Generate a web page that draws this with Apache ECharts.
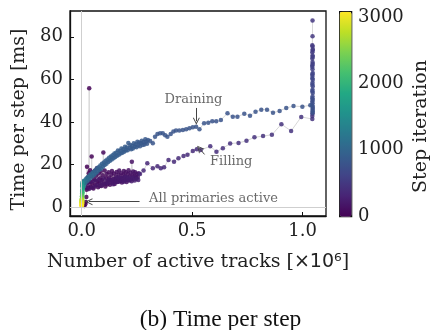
<!DOCTYPE html>
<html>
<head>
<meta charset="utf-8">
<script src="https://cdn.jsdelivr.net/npm/echarts@6/dist/echarts.min.js"></script>
<style>html,body{margin:0;padding:0;background:#fff}#c{width:432px;height:330px}</style>
</head>
<body>
<div id="c"></div>
<script>
// [active tracks (x1e6), time per step (ms), step iteration]
const ramp = [
[0.012,0.6,0],[0.016,1.4,2],[0.019,2.5,4],[0.021,4.8,6],[0.022,8.2,8],[0.024,11.5,10],[0.024,19.0,12],
[0.026,13.8,14],[0.029,9.0,16],[0.032,16.0,18],[0.034,55.9,20],[0.035,12.0,22],[0.038,17.4,24],
[0.041,9.6,26],[0.044,14.6,28],[0.045,23.8,30],[0.047,11.2,32],[0.050,16.4,34],[0.053,8.8,36],
[0.056,13.2,38],[0.059,17.0,40],[0.062,10.4,42],[0.065,14.8,44],[0.069,18.3,46],[0.071,12.0,48],
[0.074,9.4,50],[0.077,15.8,52],[0.080,11.4,54],[0.083,13.6,56],[0.086,16.8,58],[0.089,10.0,60],
[0.092,12.8,62],[0.095,15.0,64],[0.098,25.7,66],[0.101,11.2,68],[0.104,17.2,70],[0.107,9.8,72],
[0.110,13.8,74],[0.113,15.6,76],[0.116,10.8,78],[0.119,12.4,80],[0.122,16.4,82],[0.125,14.0,84],
[0.128,10.6,86],[0.131,12.8,88],[0.134,15.2,90],[0.137,17.0,92],[0.140,11.6,94],[0.143,13.4,96],
[0.146,15.8,98],[0.149,10.9,100],[0.152,12.6,102],[0.155,14.4,104],[0.158,16.6,106],[0.161,11.8,108],
[0.164,13.2,110],[0.167,15.4,112],[0.170,17.2,114],[0.173,12.2,116],[0.176,14.0,118],[0.179,16.0,120],
[0.182,11.6,122],[0.185,13.4,124],[0.188,15.2,126],[0.191,17.0,128],[0.194,12.6,130],[0.197,14.6,132],
[0.200,16.4,134],[0.203,11.8,136],[0.206,13.6,138],[0.209,15.6,140],[0.212,17.4,142],[0.215,12.8,144],
[0.218,14.4,146],[0.221,16.2,148],[0.224,13.0,150],[0.227,21.4,152],[0.230,15.0,154],[0.233,16.8,156],
[0.236,13.4,158],[0.239,14.8,160],[0.242,16.4,162],[0.246,13.8,164],[0.250,15.6,166],[0.254,14.2,168],
[0.258,16.0,170]
];
const rampLow = [
[0.020,9.2,172],[0.027,10.6,174],[0.033,8.6,176],[0.040,11.8,178],[0.046,9.2,180],[0.052,12.2,182],
[0.058,9.8,184],[0.064,12.6,186],[0.070,10.4,188],[0.076,13.0,190],[0.082,10.0,192],[0.088,12.0,194],
[0.094,10.6,196],[0.100,13.4,198],[0.106,11.0,200],[0.112,12.0,202],[0.118,11.4,204],[0.124,13.0,206],
[0.130,11.6,208],[0.136,12.6,210],[0.142,10.8,212],[0.148,13.2,214],[0.154,11.8,216],[0.160,13.8,218],
[0.166,12.0,220],[0.172,14.0,222],[0.178,12.4,224],[0.184,13.6,226],[0.190,12.0,228],[0.196,14.2,230],
[0.202,12.8,232],[0.208,14.0,234],[0.214,12.6,236],[0.220,13.6,238],[0.226,12.2,240],[0.232,13.8,242],
[0.240,12.6,244],[0.248,13.4,246],[0.256,12.8,248]
];
const filling = [
[0.264,15.6,330],[0.280,17.2,335],[0.297,20.6,340],[0.322,18.3,345],[0.343,19.3,350],[0.358,18.3,355],
[0.373,18.8,360],[0.393,22.2,365],[0.418,21.4,370],[0.438,23.0,375],[0.461,24.1,380],[0.479,24.6,385],
[0.503,26.4,390],[0.521,27.2,395],[0.539,26.9,400],[0.582,28.6,405],[0.610,26.1,410],[0.639,27.7,415],
[0.672,29.9,420],[0.710,30.2,425],[0.746,31.2,430],[0.782,32.8,435],[0.821,33.4,440],[0.861,34.0,445],
[0.904,39.0,450],[0.948,35.8,455],[0.994,42.4,460],[1.044,41.4,465],[1.044,42.8,470],[1.045,44.0,475]
];
const plateau = [
[1.045,87.6,490],[1.045,80.3,498],[1.044,76.0,506],[1.046,74.2,514],[1.045,75.4,522],[1.044,72.8,530],
[1.046,73.6,538],[1.045,71.2,546],[1.044,69.8,554],[1.046,70.6,562],[1.045,68.2,570],[1.044,66.6,578],
[1.046,67.4,586],[1.045,64.8,594],[1.044,65.8,602],[1.046,63.0,610],[1.045,61.6,618],[1.044,62.4,626],
[1.046,59.8,634],[1.045,58.4,642],[1.044,60.6,650],[1.046,56.8,658],[1.045,55.2,666],[1.044,57.6,674],
[1.046,53.6,682],[1.045,52.0,690],[1.044,54.4,698],[1.046,50.4,706],[1.045,48.8,714],[1.044,51.2,722],
[1.046,47.2,730],[1.045,45.6,738],[1.044,49.6,746],[1.046,46.4,754],[1.045,44.2,762],[1.044,47.8,770],
[1.046,45.0,778]
];
const draining = [
[1.035,47.9,790],[0.999,47.2,791],[0.959,47.5,792],[0.926,46.6,793],[0.896,45.2,794],[0.866,44.4,795],
[0.839,45.8,796],[0.813,45.8,797],[0.787,44.8,798],[0.762,43.0,799],[0.736,43.9,800],[0.705,42.5,801],
[0.684,42.5,802],[0.660,44.1,803],[0.630,41.0,804],[0.609,40.4,805],[0.591,40.4,806],[0.573,39.7,807],
[0.554,39.4,808],[0.533,36.6,809],[0.518,37.8,810],[0.503,37.6,811],[0.488,37.1,812],[0.473,36.6,813],
[0.458,36.3,814],[0.442,36.0,815],[0.427,36.0,816],[0.415,35.5,817],[0.403,34.4,818],[0.388,33.1,819],
[0.378,33.8,820],[0.367,34.7,821],[0.355,34.7,822],[0.343,34.4,823],[0.332,33.1,824],[0.322,30.0,825],
[0.310,31.1,826]
];
const band = [
[0.300,31.6,840],[0.296,29.8,842],[0.292,30.9,844],[0.288,31.9,846],[0.284,29.4,848],[0.280,30.6,850],
[0.276,29.2,852],[0.272,31.2,854],[0.268,30.0,856],[0.264,28.6,858],[0.260,30.4,860],[0.256,29.0,862],
[0.252,30.8,864],[0.248,28.2,866],[0.244,29.6,868],[0.240,28.4,870],[0.236,30.0,872],[0.232,27.6,874],
[0.228,28.8,876],[0.224,27.2,878],[0.220,29.2,880],[0.216,27.8,882],[0.211,30.1,884],[0.208,26.8,886],
[0.204,28.0,888],[0.200,26.6,890],[0.196,28.4,892],[0.192,26.0,894],[0.188,27.2,896],[0.184,25.6,898],
[0.180,27.6,900],[0.176,25.2,902],[0.172,26.4,904],[0.168,24.6,906],[0.164,26.6,908],[0.160,24.2,910],
[0.156,25.6,912],[0.152,23.6,914],[0.148,25.2,916],[0.144,23.0,918],[0.140,24.4,920],[0.136,22.4,922],
[0.132,23.8,924],[0.128,21.8,926],[0.124,23.2,928],[0.120,21.2,930],[0.116,22.4,932],[0.112,20.4,934],
[0.108,21.8,936],[0.104,19.8,938],[0.100,21.0,940],[0.096,19.0,942],[0.092,20.4,944],[0.088,18.2,946],
[0.084,19.6,948],[0.080,17.6,950],[0.076,18.8,952],[0.072,16.8,954],[0.068,18.2,956],[0.064,16.0,958],
[0.060,17.2,970],[0.056,15.2,985],[0.052,16.6,1000],[0.048,14.6,1015],[0.044,15.8,1030],[0.040,13.8,1045],
[0.036,15.0,1060],[0.032,13.0,1080],[0.028,14.2,1100],[0.024,12.2,1120],[0.020,13.4,1140],[0.016,11.4,1160],
[0.013,12.6,1180],[0.010,10.6,1200],[0.008,11.8,1220],[0.006,9.8,1240],[0.004,11.0,1260]
];
const tail = [
[0.006,12.2,1300],[0.004,10.4,1380],[0.008,9.6,1460],[0.003,11.4,1540],[0.005,9.0,1620],[0.002,10.0,1700],
[0.004,8.4,1800],[0.002,7.6,1900],[0.004,7.0,2000],[0.002,6.4,2100],[0.003,5.8,2200],[0.001,5.2,2300],
[0.003,4.6,2400],[0.001,4.2,2500],[0.002,3.8,2600],[0.000,3.5,2700],[0.003,3.2,2750],[-0.002,3.0,2800],
[0.002,2.7,2850],[-0.002,2.4,2900],[0.001,2.2,2940],[0.003,2.0,2970],[-0.001,1.8,3000],[0.002,1.5,3020],
[-0.002,1.2,3040],[0.001,1.0,3060],[-0.001,0.8,3075],[0.000,0.6,3090]
];
const xTicks = [0, 0.5, 1.0];
const yTicks = [0, 20, 40, 60, 80];
const cbTicks = [0, 1000, 2000, 3000];
const annotations = [
  {name: 'Draining', value: [0.506, 50.4]},
  {name: 'Filling', value: [0.677, 21.3]},
  {name: 'All primaries active', value: [0.597, 3.9]}
];
const arrows = [
  [[0.519, 46.6], [0.519, 40.4]],
  [[0.556, 24.8], [0.533, 27.6]],
  [[0.262, 2.6], [0.033, 2.6]]
];
const viridis = ['#440154','#482475','#414487','#355f8d','#2a788e','#21918c','#22a884','#44bf70','#7ad151','#bddf26','#fde725'];

const allPoints = ramp.concat(rampLow, filling, plateau, draining, band, tail);
const serif = "'DejaVu Serif', serif";
const chevron = 'path://M0,10 L5,0 L10,10 L8.6,10 L5,2.8 L1.4,10 Z';
const chart = echarts.init(document.getElementById('c'), null, {renderer: 'canvas'});
chart.setOption({
  animation: false,
  backgroundColor: '#fff',
  grid: [
    {left: 70, top: 11, width: 256, height: 205, show: true, borderColor: '#111', borderWidth: 1.3, backgroundColor: 'transparent'},
    {left: 339, top: 11, width: 12, height: 205, show: false}
  ],
  xAxis: [
    {type: 'value', gridIndex: 0, min: -0.053, max: 1.106,
     axisLine: {show: true, onZero: false, lineStyle: {color: '#111', width: 1.3}},
     axisTick: {show: true, inside: true, length: 4, customValues: xTicks, lineStyle: {color: '#111'}},
     axisLabel: {customValues: xTicks, formatter: v => v.toFixed(1), fontFamily: serif, fontSize: 18, color: '#222', margin: 6},
     splitLine: {show: false},
     name: 'Number of active tracks [{m|×10⁶}]', nameLocation: 'middle', nameGap: 37,
     nameTextStyle: {fontFamily: serif, fontSize: 19, color: '#222', rich: {m: {fontFamily: "'DejaVu Sans', sans-serif", fontSize: 19, color: '#222'}}}},
    {type: 'value', gridIndex: 1, show: false, min: 0, max: 1}
  ],
  yAxis: [
    {type: 'value', gridIndex: 0, min: -4.1, max: 92.1,
     axisLine: {show: true, onZero: false, lineStyle: {color: '#111', width: 1.3}},
     axisTick: {show: true, inside: true, length: 4, customValues: yTicks, lineStyle: {color: '#111'}},
     axisLabel: {customValues: yTicks, fontFamily: serif, fontSize: 18, color: '#222', margin: 7},
     splitLine: {show: false},
     name: 'Time per step [ms]', nameLocation: 'middle', nameGap: 41, nameRotate: 90,
     nameTextStyle: {fontFamily: serif, fontSize: 19, color: '#222', padding: [0, 12, 0, 0]}},
    {type: 'value', gridIndex: 1, position: 'right', min: 0, max: 3090,
     axisLine: {show: false},
     axisTick: {show: false},
     axisLabel: {customValues: cbTicks, formatter: v => String(v), fontFamily: serif, fontSize: 18, color: '#222', margin: 8},
     splitLine: {show: false},
     name: 'Step iteration', nameLocation: 'middle', nameGap: 62, nameRotate: 90,
     nameTextStyle: {fontFamily: serif, fontSize: 19, color: '#222', padding: [0, 26, 0, 0]}}
  ],
  visualMap: {
    type: 'continuous', min: 0, max: 3090, dimension: 2, seriesIndex: 1,
    calculable: false, orient: 'vertical', left: 339, top: 11, itemWidth: 12, itemHeight: 205,
    padding: 0, borderColor: '#111', borderWidth: 1.3, hoverLink: false,
    inRange: {color: viridis}
  },
  graphic: [
    {type: 'text', x: 220.5, y: 320, style: {text: '(b) Time per step', fill: '#111', fontFamily: "'Liberation Serif', 'Times New Roman', serif", fontSize: 23.5, align: 'center', verticalAlign: 'middle'}}
  ],
  series: [
    {type: 'line', xAxisIndex: 0, yAxisIndex: 0, data: allPoints.map(p => [p[0], p[1]]),
     showSymbol: false, silent: true, z: 1, lineStyle: {color: '#d8d8d8', width: 1},
     markLine: {silent: true, symbol: 'none', label: {show: false}, lineStyle: {color: '#cfcfcf', width: 1, type: 'solid'},
       data: [{xAxis: 0}, {yAxis: 0}]}},
    {type: 'scatter', xAxisIndex: 0, yAxisIndex: 0, data: allPoints, symbolSize: 4.5, z: 2,
     itemStyle: {opacity: 0.85}},
    {type: 'scatter', xAxisIndex: 0, yAxisIndex: 0, data: annotations, symbolSize: 0, z: 3, silent: true,
     label: {show: true, position: 'inside', formatter: '{b}', fontFamily: serif, fontSize: 13, color: '#444'},
     markLine: {silent: true, symbol: ['none', chevron], symbolSize: [7, 7], label: {show: false},
       lineStyle: {color: '#444', width: 1, type: 'solid'},
       data: arrows.map(a => [{coord: a[0]}, {coord: a[1]}])}}
  ]
});
</script>
</body>
</html>
